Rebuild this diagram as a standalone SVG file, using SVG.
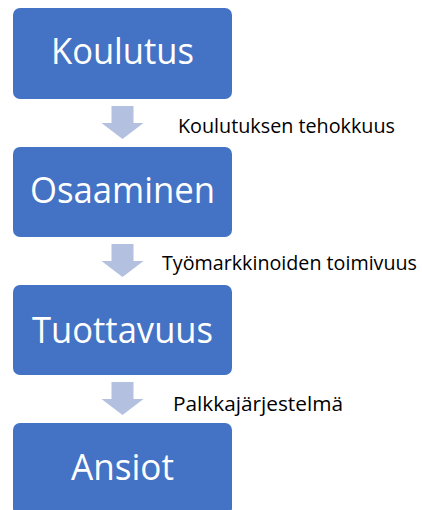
<svg xmlns="http://www.w3.org/2000/svg" width="422" height="510" viewBox="0 0 422 510">
<defs>
<style>
.box{fill:#4472C4;}
.bt{fill:#ffffff;font-family:"Open Sans","Liberation Sans",sans-serif;font-size:36px;text-anchor:middle;}
.arr{fill:#B4C0DF;}
.lbl{fill:#000000;font-family:"Open Sans","Liberation Sans",sans-serif;font-size:20px;}
</style>
<path id="darrow" d="M-11,0 H11 V17 H21 L0,33 L-21,17 H-11 Z"/>
</defs>
<rect width="422" height="510" fill="#ffffff"/>
<g id="connectors">
<use href="#darrow" class="arr" x="122.5" y="106"/>
<use href="#darrow" class="arr" x="122.5" y="244"/>
<use href="#darrow" class="arr" x="122.5" y="382"/>
<text class="lbl" x="178" y="133" textLength="217" lengthAdjust="spacingAndGlyphs">Koulutuksen tehokkuus</text>
<text class="lbl" x="162" y="270" textLength="255" lengthAdjust="spacingAndGlyphs">Työmarkkinoiden toimivuus</text>
<text class="lbl" x="173" y="411" textLength="170" lengthAdjust="spacingAndGlyphs">Palkkajärjestelmä</text>
</g>
<g id="koulutus">
<rect class="box" x="13" y="8" width="219" height="91" rx="7"/>
<text class="bt" x="122.5" y="64" textLength="143" lengthAdjust="spacingAndGlyphs">Koulutus</text>
</g>
<g id="osaaminen">
<rect class="box" x="13" y="147" width="219" height="90" rx="7"/>
<text class="bt" x="122.5" y="203" textLength="185" lengthAdjust="spacingAndGlyphs">Osaaminen</text>
</g>
<g id="tuottavuus">
<rect class="box" x="13" y="285" width="219" height="90" rx="7"/>
<text class="bt" x="122.5" y="343" textLength="181" lengthAdjust="spacingAndGlyphs">Tuottavuus</text>
</g>
<g id="ansiot">
<rect class="box" x="13" y="423" width="219" height="92" rx="7"/>
<text class="bt" x="122.5" y="480" textLength="103" lengthAdjust="spacingAndGlyphs">Ansiot</text>
</g>
</svg>
